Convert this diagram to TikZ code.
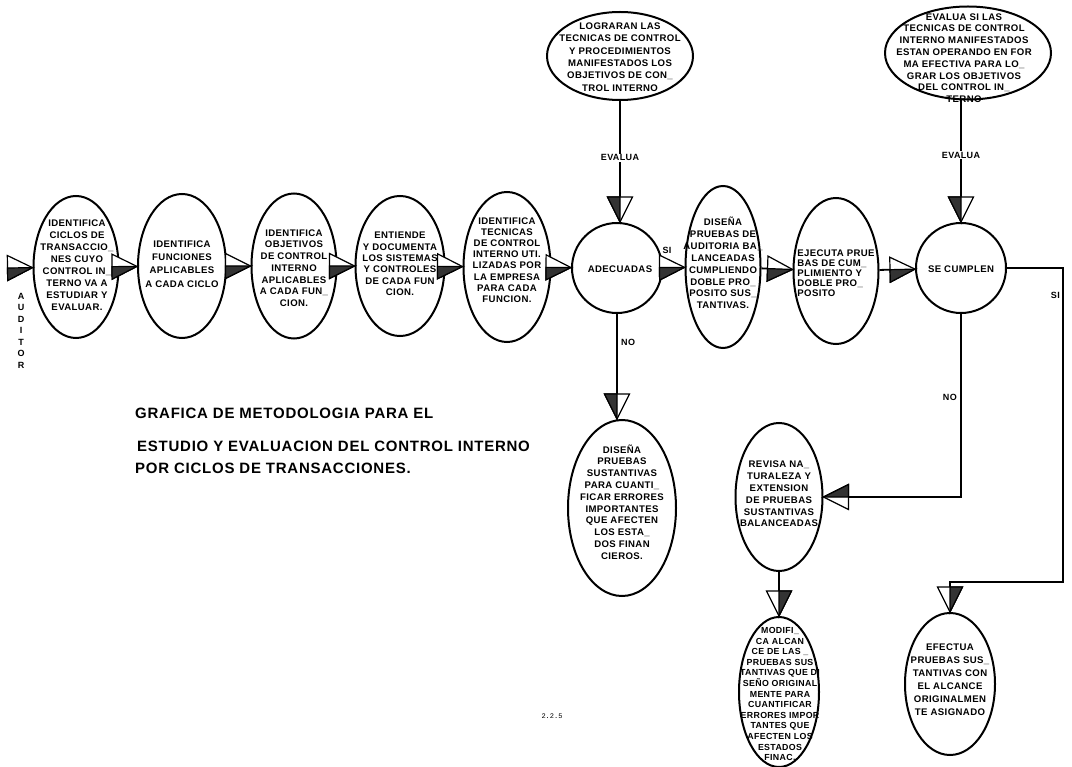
\documentclass[tikz,border=0pt]{standalone}
\usepackage{fontspec}
\setmainfont{Liberation Sans}
\newfontfamily\boxfont[LetterSpace=4]{Liberation Sans}
\newfontfamily\titlefont[LetterSpace=5]{Liberation Sans}
\newfontfamily\numfont{Liberation Mono}
\usetikzlibrary{arrows.meta,shapes.geometric}

% Half-filled triangular arrow head: dark half on the right-hand side of travel
\pgfdeclarearrow{
  name = HalfR,
  parameters = {\the\pgfarrowlength,\the\pgfarrowwidth},
  setup code = {
    \pgfarrowssettipend{0pt}
    \pgfarrowssetlineend{-\pgfarrowlength}
    \pgfarrowsupperhullpoint{-\pgfarrowlength}{.5\pgfarrowwidth}
    \pgfarrowsupperhullpoint{0pt}{0pt}
    \pgfarrowssavethe\pgfarrowlength
    \pgfarrowssavethe\pgfarrowwidth
  },
  drawing code = {
    \pgfsetlinewidth{1.2pt}
    \pgfsetmiterjoin
    \pgfsetfillcolor{white}
    \pgfpathmoveto{\pgfqpoint{0pt}{0pt}}
    \pgfpathlineto{\pgfqpoint{-\pgfarrowlength}{.5\pgfarrowwidth}}
    \pgfpathlineto{\pgfqpoint{-\pgfarrowlength}{-.5\pgfarrowwidth}}
    \pgfpathclose
    \pgfusepathqfillstroke
    \pgfsetfillcolor{black!80}
    \pgfpathmoveto{\pgfqpoint{0pt}{0pt}}
    \pgfpathlineto{\pgfqpoint{-\pgfarrowlength}{0pt}}
    \pgfpathlineto{\pgfqpoint{-\pgfarrowlength}{-.5\pgfarrowwidth}}
    \pgfpathclose
    \pgfusepathqfillstroke
  },
  defaults = {length=25pt, width=25pt}
}
% Same head with the dark half on the left-hand side of travel
\pgfdeclarearrow{
  name = HalfL,
  parameters = {\the\pgfarrowlength,\the\pgfarrowwidth},
  setup code = {
    \pgfarrowssettipend{0pt}
    \pgfarrowssetlineend{-\pgfarrowlength}
    \pgfarrowsupperhullpoint{-\pgfarrowlength}{.5\pgfarrowwidth}
    \pgfarrowsupperhullpoint{0pt}{0pt}
    \pgfarrowssavethe\pgfarrowlength
    \pgfarrowssavethe\pgfarrowwidth
  },
  drawing code = {
    \pgfsetlinewidth{1.2pt}
    \pgfsetmiterjoin
    \pgfsetfillcolor{white}
    \pgfpathmoveto{\pgfqpoint{0pt}{0pt}}
    \pgfpathlineto{\pgfqpoint{-\pgfarrowlength}{.5\pgfarrowwidth}}
    \pgfpathlineto{\pgfqpoint{-\pgfarrowlength}{-.5\pgfarrowwidth}}
    \pgfpathclose
    \pgfusepathqfillstroke
    \pgfsetfillcolor{black!80}
    \pgfpathmoveto{\pgfqpoint{0pt}{0pt}}
    \pgfpathlineto{\pgfqpoint{-\pgfarrowlength}{0pt}}
    \pgfpathlineto{\pgfqpoint{-\pgfarrowlength}{.5\pgfarrowwidth}}
    \pgfpathclose
    \pgfusepathqfillstroke
  },
  defaults = {length=25pt, width=25pt}
}

\begin{document}
\begin{tikzpicture}[x=1pt,y=-1pt,
  proc/.style={draw, ellipse, line width=2pt, inner sep=0pt},
  dec/.style={draw, circle, line width=2pt, inner sep=0pt, minimum size=90pt},
  txt/.style={font={\boxfont\bfseries\fontsize{9.6}{#1}\selectfont}, align=center, inner sep=0pt},
  txt/.default=12,
  small/.style={font={\boxfont\bfseries\fontsize{8.8}{#1}\selectfont}, align=center, inner sep=0pt},
  flow/.style={line width=1.8pt, -{HalfR}},
  flowl/.style={line width=1.8pt, -{HalfL}},
  tag/.style={font={\boxfont\bfseries\fontsize{9}{10}\selectfont}, inner sep=1pt},
  ttl/.style={font={\titlefont\bfseries\fontsize{15}{16}\selectfont}, inner sep=0pt, anchor=base west},
]
\useasboundingbox (0,0) rectangle (1072,767);

% main row of steps
\node[proc, minimum width=85pt, minimum height=142pt] (n1) at (76,267) {};
\node[proc, minimum width=88pt, minimum height=144pt] (n2) at (182,266) {};
\node[proc, minimum width=85pt, minimum height=145pt] (n3) at (294,266) {};
\node[proc, minimum width=89pt, minimum height=140pt] (n4) at (400,266) {};
\node[proc, minimum width=87pt, minimum height=150pt] (n5) at (507,267) {};
\node[dec] (ad) at (617,268) {};
\node[proc, minimum width=75pt, minimum height=162pt] (n7) at (723,267) {};
\node[proc, minimum width=85pt, minimum height=146pt] (n8) at (836,271) {};
\node[dec] (se) at (961,268) {};

% questions above the decisions
\node[proc, minimum width=146pt, minimum height=88pt] (t1) at (620,56) {};
\node[proc, minimum width=166pt, minimum height=93pt] (t2) at (968,53) {};

% lower branches
\node[proc, minimum width=108pt, minimum height=176pt] (b1) at (622,508) {};
\node[proc, minimum width=87pt, minimum height=148pt] (rv) at (779,497) {};
\node[proc, minimum width=80pt, minimum height=150pt] (md) at (779,692) {};
\node[proc, minimum width=90pt, minimum height=142pt] (ef) at (950,684) {};

% texts
\node[txt=12] (n1t) at (77,265) {IDENTIFICA\\CICLOS DE\\TRANSACCIO\_\\NES CUYO\\CONTROL IN\_\\TERNO VA A\\ESTUDIAR Y\\EVALUAR.};
\node[txt=13.3] (n2t) at (182,264) {IDENTIFICA\\FUNCIONES\\APLICABLES\\A CADA CICLO};
\node[txt=11.7] (n3t) at (294,268) {IDENTIFICA\\OBJETIVOS\\DE CONTROL\\INTERNO\\APLICABLES\\A CADA FUN\_\\CION.};
\node[txt=11.4] (n4t) at (400,264) {ENTIENDE\\Y DOCUMENTA\\LOS SISTEMAS\\Y CONTROLES\\DE CADA FUN\\CION.};
\node[txt=11.2] (n5t) at (507,260) {IDENTIFICA\\TECNICAS\\DE CONTROL\\INTERNO UTI.\\LIZADAS POR\\LA EMPRESA\\PARA CADA\\FUNCION.};
\node[txt] (adt) at (620,269) {ADECUADAS};
\node[txt=11.9] (n7t) at (723,263) {DISEÑA\\PRUEBAS DE\\AUDITORIA BA\_\\LANCEADAS\\CUMPLIENDO\\DOBLE PRO\_\\POSITO SUS\_\\TANTIVAS.};
\node[txt=10, align=left] (n8t) at (836,273) {EJECUTA PRUE\\BAS DE CUM\_\\PLIMIENTO Y\\DOBLE PRO\_\\POSITO};
\node[txt] (set) at (961,269) {SE CUMPLEN};
\node[txt=12.4] (t1t) at (620,57) {LOGRARAN LAS\\TECNICAS DE CONTROL\\Y PROCEDIMIENTOS\\MANIFESTADOS LOS\\OBJETIVOS DE CON\_\\TROL INTERNO};
\node[txt=11.8] (t2t) at (964,58) {EVALUA SI LAS\\TECNICAS DE CONTROL\\INTERNO MANIFESTADOS\\ESTAN OPERANDO EN FOR\\MA EFECTIVA PARA LO\_\\GRAR LOS OBJETIVOS\\DEL CONTROL IN\_\\TERNO};
\node[txt=11.8] (b1t) at (622,502) {DISEÑA\\PRUEBAS\\SUSTANTIVAS\\PARA CUANTI\_\\FICAR ERRORES\\IMPORTANTES\\QUE AFECTEN\\LOS ESTA\_\\DOS FINAN\\CIEROS.};
\node[txt=11.8] (rvt) at (779,494) {REVISA NA\_\\TURALEZA Y\\EXTENSION\\DE PRUEBAS\\SUSTANTIVAS\\BALANCEADAS};
\node[small=10.6] (mdt) at (780,694) {MODIFI\_\\CA ALCAN\\CE DE LAS \_\\PRUEBAS SUS\\TANTIVAS QUE DI\\SEÑO ORIGINAL\\MENTE PARA\\CUANTIFICAR\\ERRORES IMPOR\\TANTES QUE\\AFECTEN LOS\\ESTADOS\\FINAC.};
\node[txt=13] (eft) at (950,680) {EFECTUA\\PRUEBAS SUS\_\\TANTIVAS CON\\EL ALCANCE\\ORIGINALMEN\\TE ASIGNADO};

% actor on the left
\coordinate (aud) at (8,268);
\node[font={\boxfont\bfseries\fontsize{9}{11.5}\selectfont}, align=center, inner sep=0pt, anchor=north] (audt) at (21,293) {A\\U\\D\\I\\T\\O\\R};

% connectors along the main row
\draw[flow] (aud) -- (n1);
\draw[flow] (n1) -- (n2);
\draw[flow] (n2) -- (n3);
\draw[flow] (n3) -- (n4);
\draw[flow] (n4) -- (n5);
\draw[flow] (n5) -- (ad);
\draw[flow] (ad) -- (n7);
\node[tag] (si1) at (667,250) {SI};
\draw[flow] (n7) -- (n8);
\draw[flow] (n8) -- (se);

% evaluations from above
\draw[flow] (t1.south) -- node[tag, fill=white, pos=0.47] (ev1) {EVALUA} (t1.south |- ad.north);
\draw[flow] (t2.south -| se.north) -- node[tag, fill=white, pos=0.45] (ev2) {EVALUA} (se.north);

% branch NO of the first decision
\draw[flow] (ad.south) -- (ad.south |- b1.north);
\node[tag, anchor=west] (no1) at (620,342) {NO};

% branch NO of the second decision
\draw[flow] (se.south) |- (rv.east);
\node[tag, anchor=east] (no2) at (958,397) {NO};
\draw[flowl] (rv.south) -- (md.north);

% branch SI of the second decision
\coordinate (cr) at (1063,582);
\draw[flowl] (se.east) -| (cr) -| (ef.north);
\node[tag, anchor=east] (si2) at (1061,295) {SI};

% title
\node[ttl] (g1) at (135,419) {GRAFICA DE METODOLOGIA PARA EL};
\node[ttl] (g2) at (137,452) {ESTUDIO Y EVALUACION DEL CONTROL INTERNO};
\node[ttl] (g3) at (135,474) {POR CICLOS DE TRANSACCIONES.};

\node[font={\numfont\fontsize{7}{8}\selectfont}, inner sep=0pt] (pg) at (552,716) {2.2.5};
\end{tikzpicture}
\end{document}
